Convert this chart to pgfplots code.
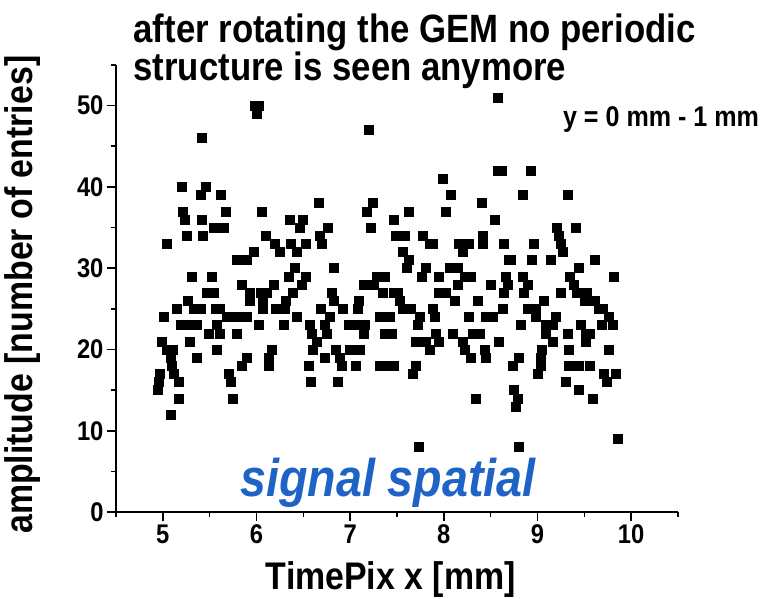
\documentclass[border=0pt]{standalone}
\usepackage{fontspec}
\setmainfont{Liberation Sans}[FakeStretch=0.88]
\usepackage{pgfplots}
\pgfplotsset{compat=1.18}
\usepackage{pgfplotstable}
\definecolor{sigblue}{RGB}{31,99,198}
\pgfplotstableread{
x y
5.98 50
6.02 50
6.00 49
5.41 46
5.20 40
5.46 40
5.40 39
5.62 39
5.21 37
5.23 36
5.42 36
5.67 37
6.06 37
5.54 35
5.65 35
5.25 34
5.43 34
5.04 33
6.10 34
5.97 32
5.79 31
5.90 31
5.31 29
5.52 29
5.84 28
5.47 27
5.54 27
5.93 27
6.04 27
6.11 27
5.27 26
5.15 25
5.33 25
5.40 25
5.56 25
5.61 25
5.93 26
6.07 26
6.07 25
5.01 24
5.68 24
5.79 24
5.90 24
5.19 23
5.27 23
5.36 23
5.58 23
6.02 23
5.49 22
5.61 22
5.79 22
4.99 21
5.29 21
5.10 20
5.04 20
5.57 20
5.36 19
5.90 19
5.08 19
5.84 18
5.09 18
6.13 19
6.13 18
4.97 17
5.12 17
5.17 16
5.70 17
5.72 16
4.96 16
4.94 15
5.17 14
5.75 14
5.08 12
7.20 47
6.66 38
7.24 38
7.18 37
6.35 36
6.49 36
6.46 35
6.76 35
7.22 35
6.68 34
6.19 33
6.36 33
6.52 33
6.70 33
6.25 32
6.43 32
6.41 30
6.82 30
6.34 29
6.52 29
7.28 29
7.37 29
6.18 28
6.48 28
7.14 28
7.25 28
6.39 27
6.80 27
7.35 27
6.31 26
6.82 26
7.09 26
6.20 25
6.30 25
6.69 25
6.92 25
7.08 25
6.43 24
6.78 24
7.31 24
7.39 24
6.29 23
6.57 23
6.73 23
6.98 23
7.05 23
7.15 23
6.59 22
6.75 22
7.14 22
7.37 22
6.64 21
6.16 20
6.60 20
6.85 20
6.99 20
7.10 20
6.73 19
6.89 19
6.56 18
6.91 18
7.06 18
7.31 18
7.40 18
6.58 16
6.87 16
8.58 51
8.58 42
7.99 41
8.07 39
7.63 37
8.02 37
8.40 38
7.47 36
8.54 36
7.49 34
7.58 34
7.77 34
7.85 33
7.88 33
8.16 33
8.27 33
8.41 33
8.41 34
8.64 33
8.20 32
7.56 32
8.69 31
7.63 31
7.60 30
7.81 30
8.06 30
8.15 30
7.76 29
7.94 29
8.22 29
8.29 29
8.66 29
8.15 28
8.50 28
7.47 27
7.51 27
7.95 27
8.02 27
8.12 26
8.36 26
7.53 26
7.56 25
7.65 25
7.88 25
8.63 25
7.42 24
7.74 24
7.90 24
8.27 24
8.45 24
8.52 24
7.72 23
7.44 22
7.91 22
8.09 22
8.31 22
8.38 22
7.70 21
7.81 21
7.95 21
8.20 21
8.59 21
7.85 20
8.22 20
8.44 20
8.29 19
8.45 19
7.46 18
7.70 18
7.67 17
8.34 14
7.73 8
8.62 42
8.93 42
8.84 39
9.32 39
9.21 35
9.41 35
9.23 34
9.25 33
8.96 33
9.27 32
8.71 31
8.94 31
9.14 31
9.61 31
9.44 30
8.84 29
9.34 29
9.81 29
8.68 28
8.89 28
9.39 28
8.64 27
8.85 27
9.25 27
9.42 27
9.52 27
9.07 26
9.50 26
9.61 26
8.89 25
8.98 25
9.65 25
9.70 25
8.98 24
9.19 24
9.76 24
8.82 23
9.09 23
9.16 23
9.46 23
9.69 23
9.80 23
9.56 22
9.09 22
9.32 22
9.51 22
9.16 21
9.51 21
9.05 20
9.33 20
9.76 20
9.03 19
8.80 19
8.73 18
9.03 18
9.33 18
9.44 18
9.56 18
9.71 17
9.83 17
9.00 17
9.74 16
9.30 16
8.75 15
8.79 14
8.77 13
9.44 15
9.59 14
8.80 8
9.86 9
}\datatable
\begin{document}
\begin{tikzpicture}[x=1pt,y=1pt]
\useasboundingbox (-116,-86) rectangle (662,512);
\begin{axis}[
  at={(0,0)}, anchor=south west,
  scale only axis, width=562pt, height=447pt,
  xmin=4.5, xmax=10.5, ymin=0, ymax=55,
  axis lines*=left,
  axis line style={line width=1.6pt,-},
  tick align=outside,
  major tick length=9pt, minor tick length=5pt,
  every tick/.style={line width=1.6pt, black},
  xtick={5,6,...,10}, minor xtick={4.5,5.5,...,10.5},
  ytick={0,10,...,50}, minor ytick={5,15,...,55},
  /pgf/number format/assume math mode=true,
  tick label style={font=\bfseries\fontsize{27}{27}\selectfont},
  xlabel={TimePix x [mm]},
  xlabel style={font=\bfseries\fontsize{38.5}{38.5}\selectfont, at={(axis description cs:0.489,-0.152)}, anchor=center},
  ylabel={amplitude [number of entries]},
  ylabel style={font=\bfseries\fontsize{38.5}{38.5}\selectfont, at={(axis description cs:-0.167,0.486)}, anchor=center},
  clip=false,
]
\addplot[only marks, mark=square*, mark size=4.5pt, color=black] table {\datatable};
\end{axis}
\node[anchor=base west, font=\bfseries\fontsize{39.5}{39.5}\selectfont] at (14,469) {after rotating the GEM no periodic};
\node[anchor=base west, font=\bfseries\fontsize{39.5}{39.5}\selectfont] at (14,431) {structure is seen anymore};
\node[font=\bfseries\fontsize{28.5}{28.5}\selectfont] at (545,392) {y = 0 mm - 1 mm};
\node[font=\bfseries\itshape\fontsize{53}{53}\selectfont, text=sigblue] at (272,29) {signal spatial};
\end{tikzpicture}
\end{document}
